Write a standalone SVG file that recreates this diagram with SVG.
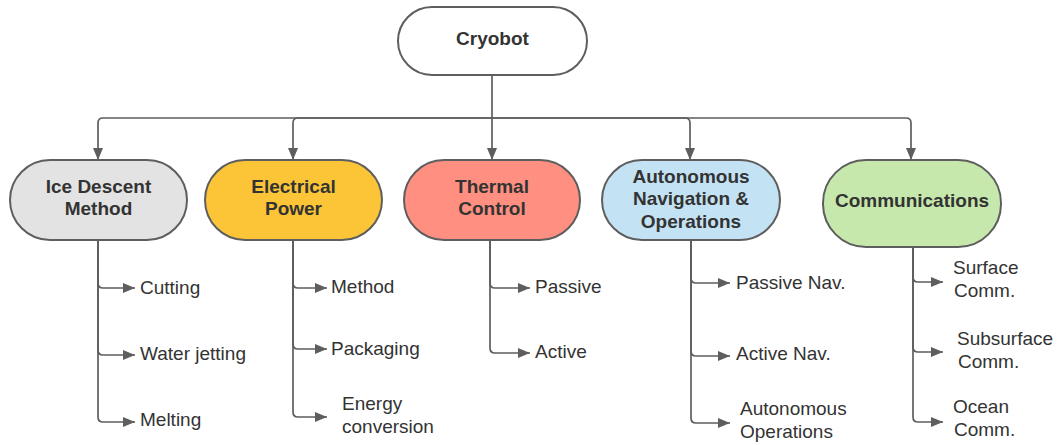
<svg xmlns="http://www.w3.org/2000/svg" width="1059" height="445" viewBox="0 0 1059 445">
<defs>
<marker id="ah" markerUnits="userSpaceOnUse" markerWidth="13" markerHeight="11" refX="12" refY="5" orient="auto">
<path d="M0,0 L12,5 L0,10 z" fill="#5e5e5e"/>
</marker>
<style>
.node{stroke:#5e5e5e;stroke-width:2}
.lbl{font-family:"Liberation Sans",Arial,sans-serif;font-size:19px;font-weight:bold;fill:#333;text-anchor:middle}
.leaf{font-family:"Liberation Sans",Arial,sans-serif;font-size:19px;fill:#333}
.c{fill:none;stroke:#5e5e5e;stroke-width:1.7;marker-end:url(#ah)}
.p{fill:none;stroke:#5e5e5e;stroke-width:1.7}
</style>
</defs>
<rect width="1059" height="445" fill="#fff"/>
<g id="connectors">
<path class="p" d="M492,75 V118"/>
<path class="c" d="M492,118 H103 Q98,118 98,123 V160"/>
<path class="c" d="M492,118 H298 Q293,118 293,123 V160"/>
<path class="c" d="M492,118 V160"/>
<path class="c" d="M492,118 H685 Q690,118 690,123 V160"/>
<path class="c" d="M492,118 H906 Q911,118 911,123 V160"/>
<path class="c" d="M98,240 V283 Q98,288 103,288 H135"/>
<path class="c" d="M98,240 V350 Q98,355 103,355 H135"/>
<path class="c" d="M98,240 V417 Q98,422 103,422 H135"/>
<path class="c" d="M293,240 V283 Q293,288 298,288 H327"/>
<path class="c" d="M293,240 V344 Q293,349 298,349 H327"/>
<path class="c" d="M293,240 V412 Q293,417 298,417 H327"/>
<path class="c" d="M490,240 V283 Q490,288 495,288 H530"/>
<path class="c" d="M490,240 V348 Q490,353 495,353 H530"/>
<path class="c" d="M691,240 V278 Q691,283 696,283 H730"/>
<path class="c" d="M691,240 V351 Q691,356 696,356 H730"/>
<path class="c" d="M691,240 V418 Q691,423 696,423 H730"/>
<path class="c" d="M913,247 V277 Q913,282 918,282 H943"/>
<path class="c" d="M913,247 V347 Q913,352 918,352 H943"/>
<path class="c" d="M913,247 V417 Q913,422 918,422 H943"/>
</g>
<g id="cryobot">
<rect class="node" x="398" y="7" width="189" height="68" rx="34" fill="#fff"/>
<text class="lbl" x="492.5" y="45">Cryobot</text>
</g>
<g id="ice-descent">
<rect class="node" x="10" y="160" width="177" height="80" rx="40" fill="#e3e3e3"/>
<text class="lbl" x="98.5" y="193">Ice Descent</text>
<text class="lbl" x="98.5" y="215">Method</text>
</g>
<g id="electrical-power">
<rect class="node" x="205" y="160" width="177" height="80" rx="40" fill="#fbc537"/>
<text class="lbl" x="293.5" y="193">Electrical</text>
<text class="lbl" x="293.5" y="215">Power</text>
</g>
<g id="thermal-control">
<rect class="node" x="404" y="160" width="176" height="80" rx="40" fill="#ff8f80"/>
<text class="lbl" x="492" y="193">Thermal</text>
<text class="lbl" x="492" y="215">Control</text>
</g>
<g id="autonomous">
<rect class="node" x="602" y="160" width="178" height="80" rx="40" fill="#c3e3f5"/>
<text class="lbl" x="691" y="183">Autonomous</text>
<text class="lbl" x="691" y="205">Navigation &amp;</text>
<text class="lbl" x="691" y="228">Operations</text>
</g>
<g id="communications">
<rect class="node" x="823" y="160" width="178" height="87" rx="43" fill="#c6e8ac"/>
<text class="lbl" x="912" y="207">Communications</text>
</g>
<g id="leaves">
<text class="leaf" x="140" y="294">Cutting</text>
<text class="leaf" x="140" y="360">Water jetting</text>
<text class="leaf" x="140" y="426">Melting</text>
<text class="leaf" x="331" y="293">Method</text>
<text class="leaf" x="331" y="355">Packaging</text>
<text class="leaf" x="342" y="410">Energy</text>
<text class="leaf" x="342" y="433">conversion</text>
<text class="leaf" x="535" y="293">Passive</text>
<text class="leaf" x="535" y="358">Active</text>
<text class="leaf" x="736" y="289">Passive Nav.</text>
<text class="leaf" x="736" y="360">Active Nav.</text>
<text class="leaf" x="740" y="415">Autonomous</text>
<text class="leaf" x="740" y="438">Operations</text>
<text class="leaf" x="953" y="274">Surface</text>
<text class="leaf" x="954" y="297">Comm.</text>
<text class="leaf" x="957" y="345">Subsurface</text>
<text class="leaf" x="958" y="368">Comm.</text>
<text class="leaf" x="953" y="413">Ocean</text>
<text class="leaf" x="954" y="436">Comm.</text>
</g>
</svg>
